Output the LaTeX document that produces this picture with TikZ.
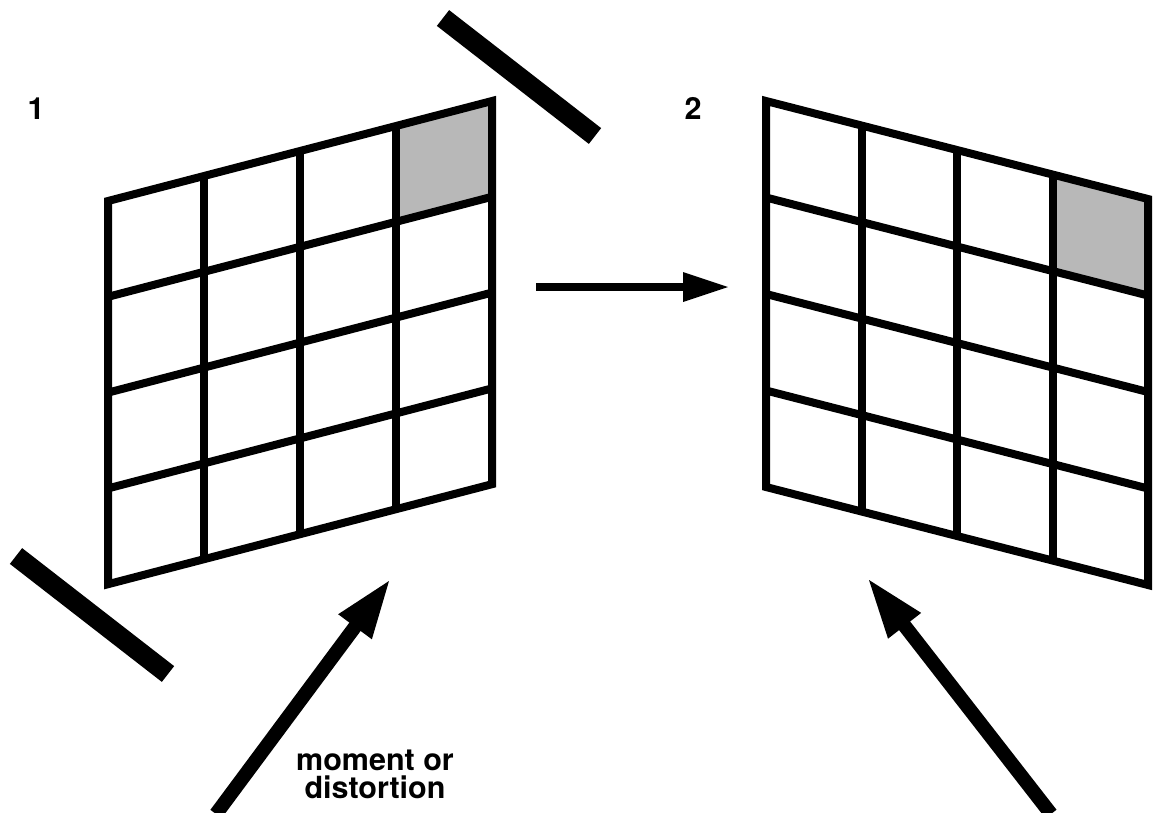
\documentclass[tikz,border=0pt]{standalone}
\usepackage{fontspec}
\setmainfont{TeX Gyre Heros}
\usetikzlibrary{calc}
\definecolor{cellgray}{HTML}{B8B8B8}
\begin{document}
\begin{tikzpicture}[x=1pt,y=-1pt,
  gridline/.style={line width=8pt},
  border/.style={line width=8pt, line join=miter},
  bar/.style={line width=20pt},
  shaftline/.style={line width=14pt},
  midshaft/.style={line width=8pt},
  lbl/.style={font=\bfseries\fontsize{30.5}{30}\selectfont, inner sep=0pt, anchor=base}]
\useasboundingbox[fill=white] (0,0) rectangle (1154,812);

% ---------- grid 1 ----------
\fill[cellgray] (396,126) -- (492,101) -- (492,196.8) -- (396,221.8) -- cycle;
\foreach \j in {1,2,3} \draw[gridline] (108,201+95.8*\j) -- (492,101+95.8*\j);
\foreach \i in {1,2,3} \draw[gridline] (108+96*\i,201-25*\i) -- ++(0,383.2);
\draw[border] (108,201) -- (492,101) -- (492,484.2) -- (108,584.2) -- cycle;

% ---------- grid 2 ----------
\fill[cellgray] (1052.5,174.5) -- (1148,199) -- (1148,295.5) -- (1052.5,271) -- cycle;
\foreach \j in {1,2,3} \draw[gridline] (766,101+96.5*\j) -- (1148,199+96.5*\j);
\foreach \i in {1,2,3} \draw[gridline] (766+95.5*\i,101+24.5*\i) -- ++(0,386);
\draw[border] (766,101) -- (1148,199) -- (1148,585) -- (766,487) -- cycle;

% ---------- bars ----------
\draw[bar] (443,18) -- (595,136);
\draw[bar] (16,556) -- (168,674);

% ---------- middle arrow ----------
\coordinate (ma) at (536,287);
\coordinate (mt) at (728,287);
\draw[midshaft] (ma) -- (688,287);
\fill (mt) -- (683,272) -- (683,302) -- cycle;

% ---------- lower-left arrow ----------
\coordinate (t1) at (389,581);
\coordinate (s1) at (216,814);
\coordinate (b1) at ($(t1)!57pt!(s1)$);
\draw[shaftline] (s1) -- ($(t1)!52pt!(s1)$);
\fill (t1) -- ($(b1)!21pt!90:(t1)$) -- ($(b1)!21pt!-90:(t1)$) -- cycle;

% ---------- lower-right arrow ----------
\coordinate (t2) at (869,580);
\coordinate (s2) at (1051,814);
\coordinate (b2) at ($(t2)!58pt!(s2)$);
\draw[shaftline] (s2) -- ($(t2)!53pt!(s2)$);
\fill (t2) -- ($(b2)!21pt!90:(t2)$) -- ($(b2)!21pt!-90:(t2)$) -- cycle;

% ---------- labels ----------
\node[lbl] (n1) at (36,119) {1};
\node[lbl] (n2) at (693,119) {2};
\node[lbl] (m1) at (375,770) {moment or};
\node[lbl] (m2) at (375,798) {distortion};
\end{tikzpicture}
\end{document}
